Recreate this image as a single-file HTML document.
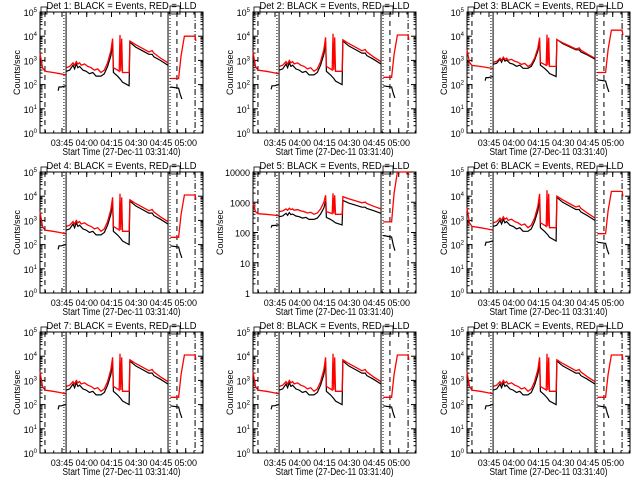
<!DOCTYPE html>
<html><head><meta charset="utf-8"><style>
body{margin:0;background:#fff}
svg{display:block}
text{font-family:"Liberation Sans",sans-serif;fill:#000}
</style></head><body>
<svg id="c" width="640" height="480" viewBox="0 0 640 480"></svg>
<script>
// shared time grid (minutes since 03:31:40) and log10 profiles; NaN = gap
const times = [0,1.5,3,8,12,15.5,NaN,16,18,20,21,22,23,24,25,27,29,31,33,35,37,39,41,43,44,44.5,47,48,48.5,49,49.5,50,53,54,54.5,58,62,66,68,69,73,77.5,NaN,79,84,85.5,87.5,94,94.5];
const redLog = [3.3,2.7,2.55,2.5,2.45,2.4,NaN,2.7,2.75,2.9,2.8,2.95,2.85,2.9,2.8,2.85,2.75,2.7,2.6,2.65,2.5,2.6,2.9,3.4,3.9,2.7,2.6,2.55,4.05,2.55,3.9,2.5,2.5,2.5,3.8,3.65,3.5,3.35,3.4,3.3,3.1,2.9,NaN,2.25,2.25,3.2,4.0,4.0,3.8];
const blackTimes = [11,11.5,13,15.5,NaN,16,18,20,21,22,23,24,26,28,30,32,34,37,39,41,43,44,44.5,47,49,50,54,54.5,58,62,66,68,69,73,77.5,NaN,79,84,85,86];
const blackLog = [1.75,1.9,1.9,1.95,NaN,2.55,2.6,2.8,2.65,2.85,2.7,2.75,2.6,2.55,2.45,2.5,2.35,2.35,2.45,2.75,3.2,3.7,2.5,2.35,2.2,2.1,1.95,3.75,3.55,3.4,3.25,3.25,3.15,3.0,2.8,NaN,1.9,1.85,1.6,1.4];
const detNames = ["1","2","3","4","5","6","7","8","9"];
const redOffset = [0,0.05,0.25,0.05,0.1,0.2,0.05,0.05,0.05];
const blackOffset = [0,0.05,0.3,0.05,0.0,0.2,0.05,0.05,0.05];
const ampScale = [1,1,0.85,1,0.45,1,1,1,1];
const yDecades = [5,5,5,5,4,5,5,5,5];
const xTickLabels = ["03:45","04:00","04:15","04:30","04:45","05:00"];
const xTickTimes = [13.33,28.33,43.33,58.33,73.33,88.33];

const NS="http://www.w3.org/2000/svg", svg=document.getElementById('c');
function mk(tag,at,parent){const e=document.createElementNS(NS,tag);for(const k in at)e.setAttribute(k,at[k]);(parent||svg).appendChild(e);return e;}
const colX=[40,253,467], rowY=[12,172,332], W=163, H=121, TMAX=98.8;

for(let p=0;p<9;p++){
  const x0=colX[p%3], y0=rowY[Math.floor(p/3)], nd=yDecades[p];
  const g=mk('g',{});
  
  
  const xs=t=>x0+t/TMAX*W;
  const ys=v=>y0+H-(Math.max(0,Math.min(nd,v))/nd)*H;
  const tr=(v,t)=>t>78?v:2.5+ampScale[p]*(v-2.5);
  const fr=mk('rect',{x:x0,y:y0,width:W,height:H,fill:'none',stroke:'#000','stroke-width':1},g);
  
  
  for(let d=0;d<=nd;d++){
    const y=ys(d);
    mk('line',{x1:x0,x2:x0+5,y1:y,y2:y,stroke:'#000'},g);
    mk('line',{x1:x0+W-5,x2:x0+W,y1:y,y2:y,stroke:'#000'},g);
    if(d<nd)for(let m=2;m<10;m++){const yy=ys(d+Math.log10(m));
      mk('line',{x1:x0,x2:x0+2.5,y1:yy,y2:yy,stroke:'#000'},g);
      mk('line',{x1:x0+W-2.5,x2:x0+W,y1:yy,y2:yy,stroke:'#000'},g);}
    const lt=mk('text',{x:x0-3,y:y+4,'font-size':9,'text-anchor':'end'},g);
    
    
    if(nd===4){lt.textContent=String(Math.pow(10,d));}
    else{lt.textContent='10';const s=mk('tspan',{dy:-4,'font-size':6},lt);s.textContent=String(d);}
  }
  for(let i=0;i<xTickTimes.length;i++){
    const x=xs(xTickTimes[i]);
    mk('line',{x1:x,x2:x,y1:y0+H,y2:y0+H-5,stroke:'#000'},g);
    mk('line',{x1:x,x2:x,y1:y0,y2:y0+5,stroke:'#000'},g);
    const lt=mk('text',{x:x,y:y0+H+13,'font-size':9,'text-anchor':'middle'},g);
    
    
    lt.textContent=xTickLabels[i];
  }
  for(let t=3.33;t<TMAX;t+=5){const x=xs(t);
    mk('line',{x1:x,x2:x,y1:y0+H,y2:y0+H-2.5,stroke:'#000'},g);
    mk('line',{x1:x,x2:x,y1:y0,y2:y0+2.5,stroke:'#000'},g);}
  const vl=[[3,'5,4'],[14.5,'1,2'],[15.8,''],[77.6,''],[78.8,'1,2'],[83,'5,4'],[94,'6,2,1,2']];
  vl.forEach(v=>{const l=mk('line',{x1:xs(v[0]),x2:xs(v[0]),y1:y0,y2:y0+H,stroke:'#000','stroke-width':1,'stroke-dasharray':v[1]},g);
    
    });
  mk('rect',{x:xs(77.6)+2,y:y0-6,width:10,height:8,fill:'none',stroke:'#000','stroke-width':0.8},g);
  mk('rect',{x:x0+1,y:y0-5,width:6,height:7,fill:'none',stroke:'#000','stroke-width':0.8},g);
  function path(tt,vv,off){let d='',pen=false;
    for(let i=0;i<tt.length;i++){if(isNaN(tt[i])){pen=false;continue;}
      const X=xs(tt[i]).toFixed(1),Y=ys(tr(vv[i],tt[i])+off).toFixed(1);
      d+=(pen?'L':'M')+X+' '+Y+' ';pen=true;}
    return d;}
  const bl=mk('path',{d:path(blackTimes,blackLog,blackOffset[p]),fill:'none',stroke:'#000','stroke-width':1.2},g);
  
  
  const rd=mk('path',{d:path(times,redLog,redOffset[p]),fill:'none',stroke:'#f00','stroke-width':1.3},g);
  
  
  const ti=mk('text',{x:x0+W/2,y:y0-3,'font-size':10,'text-anchor':'middle',textLength:150,lengthAdjust:'spacingAndGlyphs'},g);
  
  
  ti.textContent='Det '+detNames[p]+': BLACK = Events, RED = LLD';
  const xl=mk('text',{x:x0+W/2,y:y0+H+22,'font-size':10,'text-anchor':'middle',textLength:118,lengthAdjust:'spacingAndGlyphs'},g);
  
  
  xl.textContent='Start Time (27-Dec-11 03:31:40)';
  const yl=mk('text',{x:0,y:0,'font-size':9,'text-anchor':'middle',transform:`translate(${x0-(nd===4?30:20)},${y0+H/2}) rotate(-90)`},g);
  
  
  yl.textContent='Counts/sec';
}
</script>
</body></html>
